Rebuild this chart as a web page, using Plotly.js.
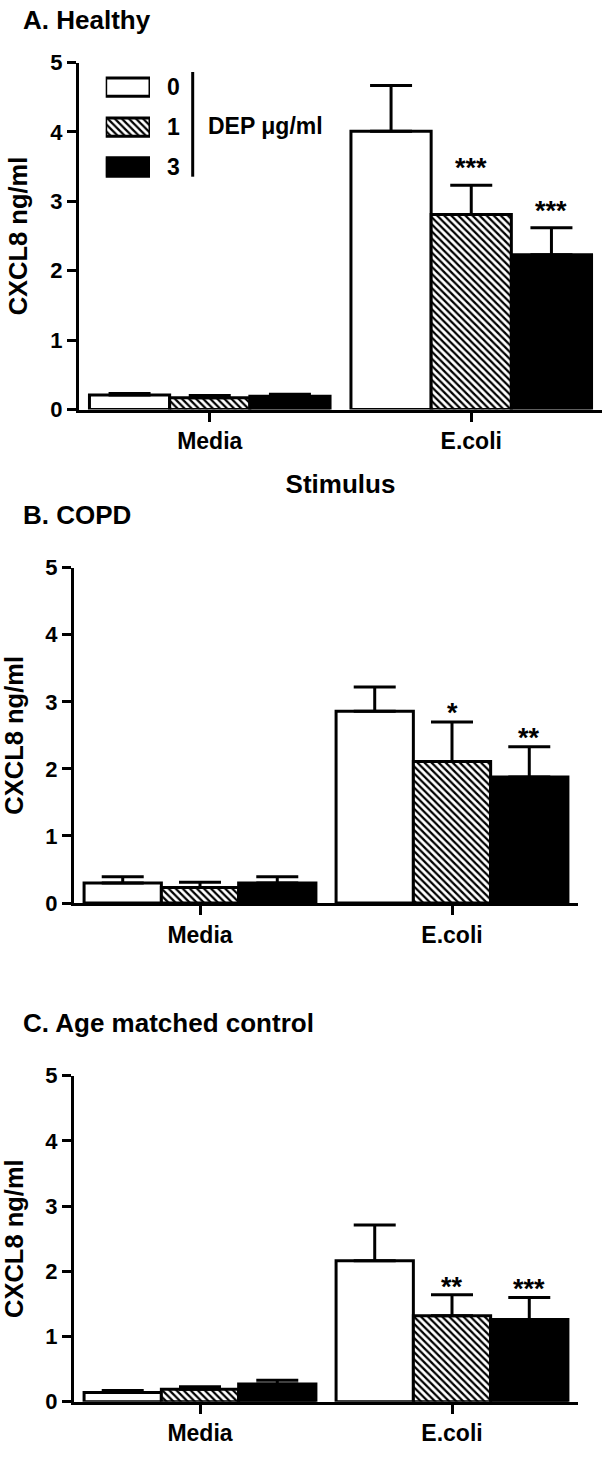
<!DOCTYPE html>
<html>
<head>
<meta charset="utf-8">
<script src="https://cdn.plot.ly/plotly-3.0.1.min.js"></script>
<style>
html,body{margin:0;padding:0;background:#ffffff;}
#chart{width:608px;height:1457px;}
</style>
</head>
<body>
<div id="chart"></div>
<script>
// ---------------- data ----------------
const stimuli = ['Media', 'E.coli'];
const doseLabels = ['0', '1', '3'];
const legendTitle = 'DEP \u03bcg/ml';
const panelTitles = ['A. Healthy', 'B. COPD', 'C. Age matched control'];
const yTitle = 'CXCL8 ng/ml';
const xTitle = 'Stimulus';
const yTickVals = [0, 1, 2, 3, 4, 5];

// A. Healthy
const healthyMean0 = [0.21, 4.01];
const healthySem0  = [0.02, 0.66];
const healthyMean1 = [0.17, 2.81];
const healthySem1  = [0.03, 0.42];
const healthyMean3 = [0.19, 2.23];
const healthySem3  = [0.03, 0.39];
const healthyStars = [[null, null], [null, '***'], [null, '***']];

// B. COPD
const copdMean0 = [0.30, 2.86];
const copdSem0  = [0.09, 0.36];
const copdMean1 = [0.23, 2.11];
const copdSem1  = [0.08, 0.59];
const copdMean3 = [0.30, 1.88];
const copdSem3  = [0.09, 0.45];
const copdStars = [[null, null], [null, '*'], [null, '**']];

// C. Age matched control
const ageMean0 = [0.14, 2.16];
const ageSem0  = [0.03, 0.55];
const ageMean1 = [0.19, 1.32];
const ageSem1  = [0.04, 0.32];
const ageMean3 = [0.27, 1.26];
const ageSem3  = [0.06, 0.34];
const ageStars = [[null, null], [null, '**'], [null, '***']];

// ---------------- layout helpers ----------------
const W = 608, H = 1457;
const fx = px => px / W;
const fy = px => 1 - px / H;
const FONT = 'Liberation Sans, Arial, Helvetica, sans-serif';
const BARGAP = 0.08;
const LW = 3;

const panels = [
  {means: [healthyMean0, healthyMean1, healthyMean3], sems: [healthySem0, healthySem1, healthySem3], stars: healthyStars,
   xpx: [79, 602], ypx: [62.5, 409.5], titleY: 20, showXTitle: true, starShift: 0},
  {means: [copdMean0, copdMean1, copdMean3], sems: [copdSem0, copdSem1, copdSem3], stars: copdStars,
   xpx: [74, 578], ypx: [567.7, 903], titleY: 515, showXTitle: false, starShift: -8},
  {means: [ageMean0, ageMean1, ageMean3], sems: [ageSem0, ageSem1, ageSem3], stars: ageStars,
   xpx: [74, 578], ypx: [1075.7, 1401.7], titleY: 1023, showXTitle: false, starShift: -9}
];

const fills = [
  {color: '#ffffff', pattern: {shape: ''}},
  {color: '#000000', pattern: {shape: '\\', size: 5, solidity: 0.45, fgcolor: '#000000', bgcolor: '#ffffff'}},
  {color: '#000000', pattern: {shape: ''}}
];

const traces = [];
const annotations = [];
const layout = {
  width: W, height: H,
  margin: {l: 0, r: 0, t: 0, b: 0},
  paper_bgcolor: '#ffffff', plot_bgcolor: 'rgba(0,0,0,0)',
  showlegend: false,
  barmode: 'group', bargap: BARGAP, bargroupgap: 0,
  font: {family: FONT, color: '#000000', size: 22, weight: 'bold'},
  shapes: [],
  annotations: annotations
};

panels.forEach((p, i) => {
  const n = i === 0 ? '' : String(i + 1);
  const xa = 'x' + n, ya = 'y' + n;
  p.means.forEach((m, d) => {
    traces.push({
      type: 'bar', x: stimuli, y: m, name: doseLabels[d],
      xaxis: xa, yaxis: ya,
      marker: {color: fills[d].color, pattern: fills[d].pattern, line: {color: '#000000', width: LW}},
      error_y: {type: 'data', symmetric: false, array: p.sems[d], arrayminus: p.sems[d].map(() => 0),
                color: '#000000', thickness: LW, width: 21},
      hoverinfo: 'skip'
    });
  });
  layout['xaxis' + n] = {
    domain: [fx(p.xpx[0]), fx(p.xpx[1])], anchor: ya, type: 'category', range: [-0.5, 1.5],
    showline: true, linecolor: '#000000', linewidth: LW, mirror: false,
    ticks: 'outside', ticklen: 9, tickwidth: LW, tickcolor: '#000000',
    showgrid: false, zeroline: false, fixedrange: true,
    tickfont: {family: FONT, size: 23, weight: 'bold', color: '#000000'},
    title: p.showXTitle ? {text: xTitle, font: {family: FONT, size: 26, weight: 'bold'}, standoff: 22} : {text: ''},
    automargin: false
  };
  layout['yaxis' + n] = {
    domain: [fy(p.ypx[1]), fy(p.ypx[0])], anchor: xa, range: [0, 5],
    tickvals: yTickVals, ticktext: yTickVals.map(String),
    showline: true, linecolor: '#000000', linewidth: LW,
    ticks: 'outside', ticklen: 9, tickwidth: LW, tickcolor: '#000000',
    showgrid: false, zeroline: false, fixedrange: true,
    tickfont: {family: FONT, size: 22, weight: 'bold', color: '#000000'},
    title: {text: yTitle, font: {family: FONT, size: 25.5, weight: 'bold'}, standoff: 16},
    automargin: false
  };
  // panel title
  annotations.push({xref: 'paper', yref: 'paper', x: fx(21), y: fy(p.titleY), xanchor: 'left', yanchor: 'middle',
    text: panelTitles[i], showarrow: false, font: {family: FONT, size: 26, weight: 'bold'}});
  // significance stars
  const groupPx = (p.xpx[1] - p.xpx[0]) / 2 * (1 - BARGAP);
  const barPx = groupPx / 3;
  p.stars.forEach((row, d) => {
    row.forEach((s, c) => {
      if (!s) return;
      annotations.push({xref: xa, yref: ya, x: stimuli[c], y: p.means[d][c] + p.sems[d][c],
        xshift: (d - 1) * barPx, yshift: p.starShift, xanchor: 'center', yanchor: 'bottom',
        text: s, showarrow: false, font: {family: FONT, size: 27, weight: 'bold'}});
    });
  });
});

// legend drawn as a small bar chart on hidden axes
traces.push({
  type: 'bar', orientation: 'h', x: doseLabels.map(() => 1), y: [0, 1, 2], base: 0, width: 0.46,
  xaxis: 'x4', yaxis: 'y4', hoverinfo: 'skip',
  marker: {
    color: fills.map(f => f.color),
    pattern: {shape: fills.map(f => f.pattern.shape), size: 5, solidity: 0.45, fgcolor: '#000000', bgcolor: '#ffffff'},
    line: {color: '#000000', width: LW}
  }
});
layout.xaxis4 = {domain: [fx(105.7), fx(150)], anchor: 'y4', range: [0, 1], visible: false, fixedrange: true};
layout.yaxis4 = {domain: [fy(187), fy(67.2)], anchor: 'x4', range: [2.5, -0.5], side: 'right',
  tickvals: [0, 1, 2], ticktext: doseLabels, showline: false, ticks: '', showgrid: false, zeroline: false,
  ticklabelstandoff: 16, fixedrange: true,
  tickfont: {family: FONT, size: 23, weight: 'bold', color: '#000000'}};
layout.shapes.push({type: 'line', xref: 'paper', yref: 'paper', x0: fx(192.7), x1: fx(192.7), y0: fy(72), y1: fy(176.7),
  line: {color: '#000000', width: LW}});
annotations.push({xref: 'paper', yref: 'paper', x: fx(206), y: fy(126), xanchor: 'left', yanchor: 'middle',
  text: legendTitle, showarrow: false, font: {family: FONT, size: 23, weight: 'bold'}});

Plotly.newPlot('chart', traces, layout, {displayModeBar: false, staticPlot: true});
</script>
</body>
</html>
